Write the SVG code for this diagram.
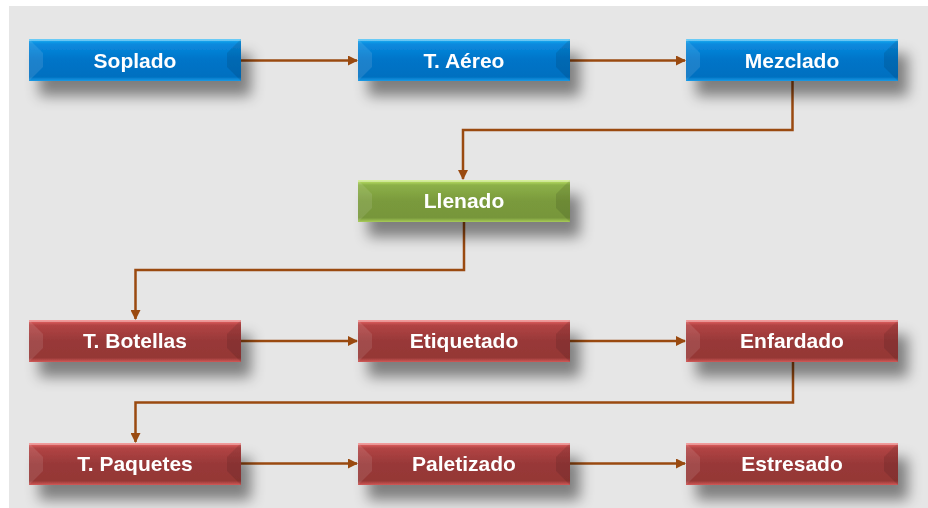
<svg xmlns="http://www.w3.org/2000/svg" width="928" height="508" viewBox="0 0 928 508">
<defs>
<style>
.lbl{font-family:"Liberation Sans",Arial,sans-serif;font-weight:bold;font-size:21px;fill:#fff;text-anchor:middle;}
.conn{fill:none;stroke:#9a4a10;stroke-width:2.5;marker-end:url(#ah);}
.fl{fill:#fff;opacity:0.1;}
.fr{fill:#000;opacity:0.1;}
.tp{fill:#fff;opacity:0.35;}
</style>
<marker id="ah" viewBox="0 0 10 10" refX="9" refY="5" markerWidth="4" markerHeight="4" orient="auto" markerUnits="strokeWidth">
<path d="M0,0L10,5L0,10z" fill="#9a4a10"/>
</marker>
<filter id="sh" x="-20%" y="-50%" width="150%" height="280%">
<feGaussianBlur in="SourceAlpha" stdDeviation="7"/>
<feOffset dx="10" dy="15" result="b"/>
<feFlood flood-color="#000" flood-opacity="0.45"/>
<feComposite in2="b" operator="in" result="s"/>
<feMerge><feMergeNode in="s"/><feMergeNode in="SourceGraphic"/></feMerge>
</filter>
<linearGradient id="gb" x1="0" y1="0" x2="0" y2="1">
<stop offset="0" stop-color="#1fb4f4"/><stop offset="0.12" stop-color="#0a8ade"/><stop offset="0.5" stop-color="#0074c8"/><stop offset="0.9" stop-color="#0070c0"/><stop offset="1" stop-color="#1a9ae6"/>
</linearGradient>
<linearGradient id="gg" x1="0" y1="0" x2="0" y2="1">
<stop offset="0" stop-color="#c6ec6a"/><stop offset="0.12" stop-color="#8cb048"/><stop offset="0.5" stop-color="#7a9a3c"/><stop offset="0.9" stop-color="#77963a"/><stop offset="1" stop-color="#a8cc58"/>
</linearGradient>
<linearGradient id="gr" x1="0" y1="0" x2="0" y2="1">
<stop offset="0" stop-color="#f06868"/><stop offset="0.12" stop-color="#b24444"/><stop offset="0.5" stop-color="#983838"/><stop offset="0.9" stop-color="#953735"/><stop offset="1" stop-color="#d25a58"/>
</linearGradient>
<g id="bev">
<polygon class="fl" points="0,0 14,14 14,28 0,42"/>
<polygon class="fr" points="212,0 198,14 198,28 212,42"/>
<rect class="tp" x="0" y="0" width="212" height="2"/>
</g>
</defs>
<rect x="0" y="0" width="928" height="508" fill="#fff"/>
<rect x="9" y="6" width="919" height="502" fill="#e6e6e6"/>

<g id="connectors">
<path class="conn" d="M241,60.5H357"/>
<path class="conn" d="M569,60.5H685"/>
<path class="conn" d="M792.5,81V130H463V179"/>
<path class="conn" d="M464,221V270H135.5V319"/>
<path class="conn" d="M241,341H357"/>
<path class="conn" d="M569,341H685"/>
<path class="conn" d="M793,362V402.5H135.5V442"/>
<path class="conn" d="M241,463.5H357"/>
<path class="conn" d="M569,463.5H685"/>
</g>

<g id="soplado" filter="url(#sh)"><g transform="translate(29,39)"><rect width="212" height="42" fill="url(#gb)"/><use href="#bev"/><text class="lbl" x="106" y="29">Soplado</text></g></g>
<g id="taereo" filter="url(#sh)"><g transform="translate(358,39)"><rect width="212" height="42" fill="url(#gb)"/><use href="#bev"/><text class="lbl" x="106" y="29">T. Aéreo</text></g></g>
<g id="mezclado" filter="url(#sh)"><g transform="translate(686,39)"><rect width="212" height="42" fill="url(#gb)"/><use href="#bev"/><text class="lbl" x="106" y="29">Mezclado</text></g></g>
<g id="llenado" filter="url(#sh)"><g transform="translate(358,180)"><rect width="212" height="42" fill="url(#gg)"/><use href="#bev"/><text class="lbl" x="106" y="28">Llenado</text></g></g>
<g id="tbotellas" filter="url(#sh)"><g transform="translate(29,320)"><rect width="212" height="42" fill="url(#gr)"/><use href="#bev"/><text class="lbl" x="106" y="28">T. Botellas</text></g></g>
<g id="etiquetado" filter="url(#sh)"><g transform="translate(358,320)"><rect width="212" height="42" fill="url(#gr)"/><use href="#bev"/><text class="lbl" x="106" y="28">Etiquetado</text></g></g>
<g id="enfardado" filter="url(#sh)"><g transform="translate(686,320)"><rect width="212" height="42" fill="url(#gr)"/><use href="#bev"/><text class="lbl" x="106" y="28">Enfardado</text></g></g>
<g id="tpaquetes" filter="url(#sh)"><g transform="translate(29,443)"><rect width="212" height="42" fill="url(#gr)"/><use href="#bev"/><text class="lbl" x="106" y="28">T. Paquetes</text></g></g>
<g id="paletizado" filter="url(#sh)"><g transform="translate(358,443)"><rect width="212" height="42" fill="url(#gr)"/><use href="#bev"/><text class="lbl" x="106" y="28">Paletizado</text></g></g>
<g id="estresado" filter="url(#sh)"><g transform="translate(686,443)"><rect width="212" height="42" fill="url(#gr)"/><use href="#bev"/><text class="lbl" x="106" y="28">Estresado</text></g></g>
</svg>
